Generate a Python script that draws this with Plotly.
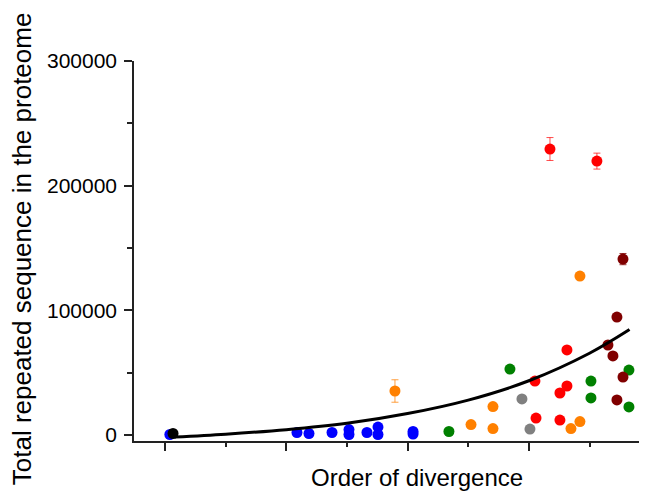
import plotly.graph_objects as go

# ---- data ----
blue_x = [0.4, 10.88, 11.87, 13.77, 15.17, 15.17, 16.65, 17.56, 17.56, 20.45, 20.45]
blue_y = [400, 2000, 1200, 2000, 4400, 400, 2000, 6400, 400, 2800, 800]

black_x = [0.66]
black_y = [1200]

orange_x = [18.96, 25.23, 27.04, 27.04, 33.47, 34.21, 34.21]
orange_y = [35300, 8400, 22800, 5200, 5200, 10800, 127500]
orange_err = [9000, 0, 0, 0, 0, 0, 0]

green_x = [23.41, 28.44, 35.12, 35.12, 38.25, 38.25]
green_y = [2800, 52900, 43300, 29700, 52100, 22500]

gray_x = [29.43, 30.09]
gray_y = [28900, 4800]

red_x = [30.50, 30.59, 31.74, 32.56, 32.56, 33.14, 33.14, 35.61]
red_y = [43300, 13600, 229400, 33700, 12000, 68200, 39300, 219700]
red_err = [0, 0, 9200, 0, 0, 0, 0, 6400]

darkred_x = [36.52, 36.93, 37.26, 37.26, 37.76, 37.76]
darkred_y = [72200, 63400, 94600, 28100, 46500, 141100]
darkred_err = [0, 0, 0, 0, 0, 4500]

fit_x = [0.8, 5, 10, 15, 20, 25, 30, 35, 38.3]
fit_y = [-1600, 700, 4300, 9400, 17200, 28000, 43500, 65600, 84600]

y_tickvals = [0, 100000, 200000, 300000]
y_ticktext = ["0", "100000", "200000", "300000"]

x_title = "Order of divergence"
y_title = "Total repeated sequence in the proteome"

FONT = "Liberation Sans, Arial, sans-serif"
MS = 11

fig = go.Figure()


def add_series(x, y, color, err=None, ecolor=None):
    kw = {}
    if err is not None:
        kw["error_y"] = dict(type="data", array=err, visible=True,
                             color=ecolor or color, thickness=1, width=3.5)
    fig.add_trace(go.Scatter(x=x, y=y, mode="markers",
                             marker=dict(color=color, size=MS, line=dict(width=0)),
                             showlegend=False, hoverinfo="skip", **kw))


add_series(blue_x, blue_y, "#0000FF")
add_series(green_x, green_y, "#008000")
add_series(orange_x, orange_y, "#FF8000", orange_err, "rgba(255,128,0,0.75)")
add_series(gray_x, gray_y, "#808080")
add_series(red_x, red_y, "#FF0000", red_err, "rgba(255,0,0,0.7)")
add_series(darkred_x, darkred_y, "#800000", darkred_err, "rgba(128,0,0,0.8)")

fig.add_trace(go.Scatter(x=fit_x, y=fit_y, mode="lines",
                         line=dict(color="black", width=3, shape="spline"),
                         showlegend=False, hoverinfo="skip"))
add_series(black_x, black_y, "#000000")

# page body has an 8px default margin; size the figure so it fits the window
fig.update_layout(
    width=639, height=485,
    margin=dict(l=126, r=0, t=53, b=52),
    paper_bgcolor="white", plot_bgcolor="white",
    font=dict(family=FONT, color="black"),
    xaxis=dict(
        range=[-2.556, 39.74], showgrid=False, zeroline=False,
        showline=True, linecolor="#222", linewidth=1.5,
        ticks="outside", ticklen=8, tickwidth=1.5, tickcolor="#222",
        tickmode="linear", tick0=0, dtick=10, showticklabels=False,
        minor=dict(ticks="outside", ticklen=4, tickwidth=1.5, tickcolor="#222",
                   tick0=5, dtick=10, showgrid=False),
    ),
    yaxis=dict(
        range=[-4810, 300000], showgrid=False, zeroline=False,
        showline=True, linecolor="#222", linewidth=1.5,
        ticks="outside", ticklen=8, tickwidth=1.5, tickcolor="#222",
        tickmode="array", tickvals=y_tickvals, ticktext=y_ticktext,
        tickfont=dict(size=21, family=FONT), ticklabelstandoff=3,
        minor=dict(ticks="outside", ticklen=5, tickwidth=1.5, tickcolor="#222",
                   tickmode="array", tickvals=[50000, 150000, 250000], showgrid=False),
    ),
    annotations=[
        dict(text=x_title, xref="paper", yref="paper", x=0.552, y=-0.097,
             xanchor="center", yanchor="middle", showarrow=False,
             font=dict(size=24, family=FONT, color="black")),
        dict(text=y_title, xref="paper", yref="paper", x=-0.218, y=0.505,
             xanchor="center", yanchor="middle", textangle=-90, showarrow=False,
             font=dict(size=26, family=FONT, color="black")),
    ],
)

fig.write_html("out.html")
